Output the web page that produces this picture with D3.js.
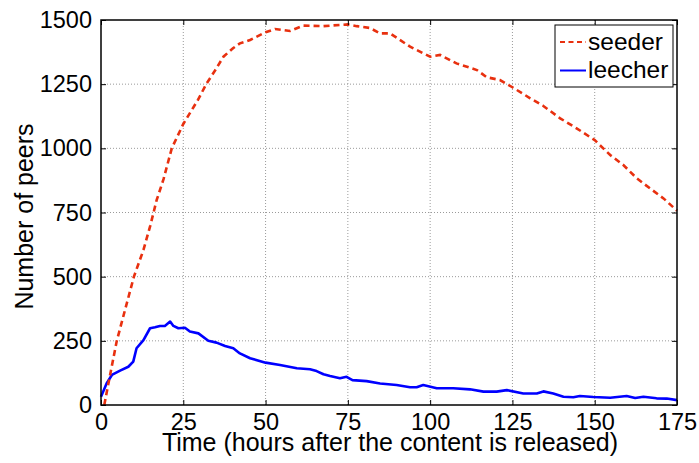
<!DOCTYPE html>
<html>
<head>
<meta charset="utf-8">
<script src="https://cdn.jsdelivr.net/npm/d3@7"></script>
<style>
  html, body { margin: 0; padding: 0; background: #fff; }
  svg { display: block; }
  text { font-family: "Liberation Sans", Arial, Helvetica, sans-serif; fill: #000; }
</style>
</head>
<body>
<svg id="chart" width="699" height="463"></svg>
<script>
const xTicks = [0, 25, 50, 75, 100, 125, 150, 175];
const yTicks = [0, 250, 500, 750, 1000, 1250, 1500];

const seederHours = [1, 2.5, 4.8, 7.5, 10, 12.9, 15, 16.9, 19, 21.5, 25, 27, 29.5, 32.1, 34.5, 37.2, 40.1, 42.2, 45.3, 50, 52.9, 57.4, 61.4, 67.5, 75, 77.7, 81.7, 84.8, 87.8, 93.9, 100, 103, 108, 114.2, 117.2, 121.2, 125, 130.4, 134.4, 139.5, 144.5, 150, 154.7, 158.7, 162.8, 166.8, 170.9, 175];
const seederPeers = [0, 100, 250, 380, 500, 604, 700, 798, 880, 1000, 1095, 1137, 1190, 1253, 1300, 1357, 1390, 1409, 1422, 1452, 1465, 1457, 1478, 1476, 1483, 1476, 1469, 1448, 1448, 1396, 1357, 1364, 1331, 1305, 1277, 1266, 1238, 1195, 1165, 1117, 1078, 1032, 974, 935, 883, 844, 805, 757];

const leecherHours = [0, 1.7, 3.3, 5.8, 8.3, 9.8, 10.8, 12.9, 14.9, 16.4, 17.9, 19.4, 21, 22, 23.5, 25.5, 27, 29.6, 32.6, 35.1, 37.7, 40.2, 42.2, 45.3, 50, 54.4, 59.5, 63.5, 65.5, 67.6, 69.6, 72.6, 74.6, 76.4, 80.7, 84.8, 89.8, 93.9, 95.9, 97.9, 102, 107, 112.1, 116.2, 120.2, 123.3, 128.3, 132.4, 134.4, 137.4, 140.5, 143.5, 145.5, 149.6, 154.7, 159.7, 162.3, 164.8, 168.8, 171.9, 175];
const leecherPeers = [32, 84, 117, 134, 149, 169, 221, 253, 299, 303, 308, 308, 325, 308, 299, 301, 286, 279, 250, 243, 230, 221, 201, 182, 165, 156, 143, 139, 132, 120, 113, 104, 110, 97, 93, 84, 78, 69, 69, 78, 65, 65, 61, 52, 52, 58, 45, 45, 53, 45, 32, 30, 35, 31, 28, 35, 27, 32, 26, 25, 19];

const seriesNames = ["seeder", "leecher"];
const xLabel = "Time (hours after the content is released)";
const yLabel = "Number of peers";

const svg = d3.select("#chart");
const pL = 101, pR = 677, pT = 20, pB = 405;
const FONT = 23.5;
const LABEL_FONT = 25;
const LEGEND_FONT = 24.5;

const x = d3.scaleLinear().domain([0, 175]).range([pL, pR]);
const y = d3.scaleLinear().domain([0, 1500]).range([pB, pT]);

// grid
const grid = svg.append("g");
xTicks.slice(1, -1).forEach(t => {
  grid.append("line").attr("x1", x(t)).attr("x2", x(t)).attr("y1", pT).attr("y2", pB)
    .attr("stroke", "#9a9a9a").attr("stroke-width", 1).attr("stroke-dasharray", "1,2");
});
yTicks.slice(1, -1).forEach(t => {
  grid.append("line").attr("x1", pL).attr("x2", pR).attr("y1", y(t)).attr("y2", y(t))
    .attr("stroke", "#9a9a9a").attr("stroke-width", 1).attr("stroke-dasharray", "1,2");
});

// lines
const seeder = seederHours.map((h, i) => [h, seederPeers[i]]);
const leecher = leecherHours.map((h, i) => [h, leecherPeers[i]]);
const line = d3.line().x(d => x(d[0])).y(d => y(d[1]));

svg.append("path").datum(leecher).attr("d", line)
  .attr("fill", "none").attr("stroke", "#0000ff").attr("stroke-width", 2.6).attr("stroke-linejoin", "round");
svg.append("path").datum(seeder).attr("d", line)
  .attr("fill", "none").attr("stroke", "#e8300f").attr("stroke-width", 2.6).attr("stroke-dasharray", "6,4");

// axes (ticks inward, box)
const tickLen = 5;
const xAxisB = d3.axisBottom(x).tickValues(xTicks).tickSize(-tickLen).tickPadding(10).tickFormat(d3.format("d"));
const xAxisT = d3.axisTop(x).tickValues(xTicks).tickSize(-tickLen).tickFormat("");
const yAxisL = d3.axisLeft(y).tickValues(yTicks).tickSize(-tickLen).tickPadding(9).tickFormat(d3.format("d"));
const yAxisR = d3.axisRight(y).tickValues(yTicks).tickSize(-tickLen).tickFormat("");

function style(g) {
  g.select(".domain").remove();
  g.selectAll(".tick line").attr("stroke", "#000").attr("stroke-width", 1);
  g.selectAll(".tick text").attr("font-size", FONT).attr("font-family", "Liberation Sans, Arial, sans-serif").attr("fill", "#000");
}
svg.append("g").attr("transform", `translate(0,${pB})`).call(xAxisB).call(style)
  .selectAll(".tick text").attr("dy", "0.71em").attr("y", 8.5);
svg.append("g").attr("transform", `translate(0,${pT})`).call(xAxisT).call(style);
svg.append("g").attr("transform", `translate(${pL},0)`).call(yAxisL).call(style);
svg.append("g").attr("transform", `translate(${pR},0)`).call(yAxisR).call(style);

svg.append("rect").attr("x", pL).attr("y", pT).attr("width", pR - pL).attr("height", pB - pT)
  .attr("fill", "none").attr("stroke", "#000").attr("stroke-width", 1.5);

// labels
svg.append("text").attr("x", 390).attr("y", 451).attr("text-anchor", "middle")
  .attr("font-size", LABEL_FONT).text(xLabel);
svg.append("text").attr("transform", `translate(33,216.5) rotate(-90)`)
  .attr("text-anchor", "middle").attr("font-size", LABEL_FONT).text(yLabel);

// legend
const lg = svg.append("g");
lg.append("rect").attr("x", 555).attr("y", 25).attr("width", 118).attr("height", 62)
  .attr("fill", "#fff").attr("stroke", "#000").attr("stroke-width", 1);
lg.append("line").attr("x1", 560).attr("x2", 586).attr("y1", 42).attr("y2", 42)
  .attr("stroke", "#e8300f").attr("stroke-width", 2).attr("stroke-dasharray", "5,3.5");
lg.append("line").attr("x1", 560).attr("x2", 586).attr("y1", 70.5).attr("y2", 70.5)
  .attr("stroke", "#0000ff").attr("stroke-width", 2);
lg.append("text").attr("x", 588).attr("y", 50).attr("font-size", LEGEND_FONT).text(seriesNames[0]);
lg.append("text").attr("x", 588).attr("y", 78).attr("font-size", LEGEND_FONT).text(seriesNames[1]);
</script>
</body>
</html>
